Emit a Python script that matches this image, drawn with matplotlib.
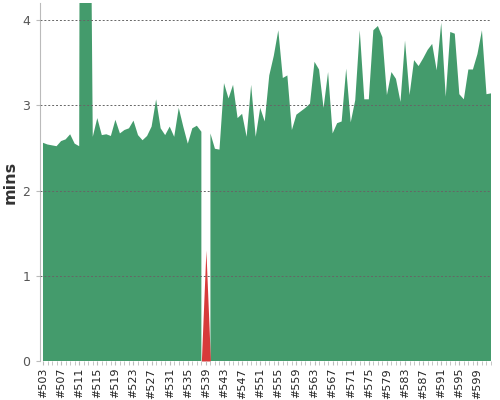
# build duration trend
import numpy as np
import matplotlib.pyplot as plt
from matplotlib.ticker import MultipleLocator

# build numbers #503 .. #602
builds = np.arange(503, 603)

# successful build durations (mins), None = failed build
durations = [
    2.56, 2.54, 2.53, 2.52, 2.58, 2.60, 2.66, 2.55, 2.52, 30.0,   # 503-512
    9.1, 2.63, 2.85, 2.65, 2.66, 2.64, 2.83, 2.67, 2.71, 2.73,    # 513-522
    2.82, 2.65, 2.59, 2.64, 2.75, 3.07, 2.73, 2.65, 2.75, 2.63,   # 523-532
    2.97, 2.75, 2.55, 2.73, 2.76, 2.69, None, 2.67, 2.49, 2.48,   # 533-542
    3.26, 3.08, 3.24, 2.85, 2.90, 2.63, 3.24, 2.63, 2.97, 2.81,   # 543-552
    3.35, 3.58, 3.88, 3.32, 3.35, 2.71, 2.89, 2.93, 2.97, 3.02,   # 553-562
    3.51, 3.42, 2.97, 3.39, 2.67, 2.79, 2.81, 3.43, 2.80, 3.06,   # 563-572
    3.88, 3.07, 3.07, 3.88, 3.93, 3.80, 3.12, 3.39, 3.31, 3.04,   # 573-582
    3.76, 3.12, 3.53, 3.46, 3.55, 3.65, 3.72, 3.41, 3.97, 3.10,   # 583-592
    3.86, 3.84, 3.13, 3.07, 3.42, 3.42, 3.60, 3.88, 3.13, 3.14,   # 593-602
]

# failed build duration (mins)
failed_build = 539
failed_value = 1.3

green = '#449b6c'
red = '#d73a3a'

ok = np.array([np.nan if v is None else v for v in durations])
failed = np.where(builds == failed_build, failed_value, 0.0)

fig = plt.figure(figsize=(5, 4), dpi=100)
ax = fig.add_axes([0.08, 0.0975, 0.902, 0.895])

ax.fill_between(builds, 0, ok, color=green, lw=0, zorder=1)
ax.fill_between(builds, 0, failed, color=red, lw=0, zorder=1)

ax.set_xlim(502.34, 602)
ax.set_ylim(0, 4.2)

# labels every 4 builds, small tick for each build
ax.set_xticks(builds[::4])
ax.set_xticklabels(['#' + str(b) for b in builds[::4]], rotation=90,
                   fontsize=8, color='#222222')
ax.xaxis.set_minor_locator(MultipleLocator(1))
ax.tick_params(axis='x', which='both', length=3, color='#bbbbbb', pad=2)

ax.set_yticks([0, 1, 2, 3, 4])
ax.tick_params(axis='y', length=3, color='#bbbbbb', labelsize=9,
               labelcolor='#555555', pad=4)
ax.set_ylabel('mins', fontsize=11.5, color='#333333', fontweight='bold',
              labelpad=3)

ax.yaxis.grid(True, linestyle=(0, (2, 2)), color='#666666', lw=0.7, zorder=3)
ax.set_axisbelow(False)

for s in ['top', 'right', 'bottom']:
    ax.spines[s].set_visible(False)
ax.spines['left'].set_color('#bbbbbb')

fig.savefig('out.png', dpi=100)
